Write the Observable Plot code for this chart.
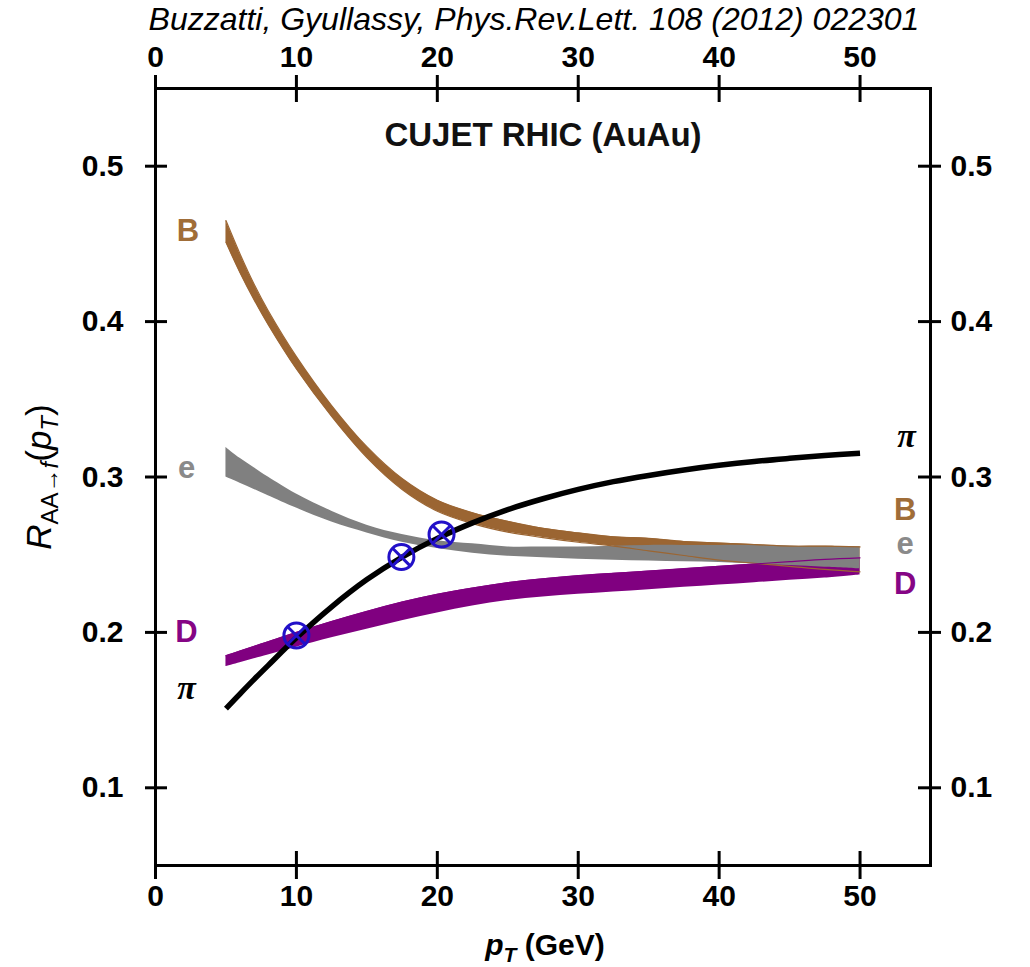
<!DOCTYPE html>
<html>
<head>
<meta charset="utf-8">
<script src="https://cdn.jsdelivr.net/npm/d3@7"></script>
<script src="https://cdn.jsdelivr.net/npm/@observablehq/plot@0.6"></script>
<style>
  body { margin: 0; background: #fff; }
  #wrap { position: relative; width: 1030px; height: 967px; overflow: hidden; }
  #cite { position: absolute; top: 0px; left: 0; width: 1030px; text-align: center;
          font-family: "Liberation Sans", Arial, sans-serif; font-style: italic;
          font-size: 32px; line-height: 38px; color: #000; padding-left: 38px; box-sizing: border-box; }
  #chart { position: absolute; top: 0; left: 0; }
</style>
</head>
<body>
<div id="wrap">
  <div id="chart"></div>
  <div id="cite">Buzzatti, Gyullassy, Phys.Rev.Lett. 108 (2012) 022301</div>
</div>
<script>
// ---- data ----
const ptGrid = [5, 6, 7, 8, 10, 12.5, 15, 17.5, 20, 22.5, 25, 27.5, 30, 32.5, 35, 37.5, 40, 42.5, 45, 47.5, 50];

const piR = [0.151, 0.1605, 0.1698, 0.1788, 0.1965, 0.2165, 0.234, 0.2485, 0.2605, 0.2705, 0.279, 0.286, 0.292, 0.297, 0.301, 0.3045, 0.3075, 0.310, 0.312, 0.3138, 0.3153];

const bLow  = [0.451, 0.4315, 0.414, 0.398, 0.3695, 0.339, 0.3125, 0.292, 0.278, 0.270, 0.2645, 0.261, 0.258, 0.2555, 0.2525, 0.2495, 0.2465, 0.2445, 0.2425, 0.2405, 0.239];
const bHigh = [0.465, 0.4435, 0.424, 0.407, 0.3775, 0.346, 0.3195, 0.299, 0.285, 0.277, 0.2715, 0.267, 0.264, 0.2615, 0.2605, 0.2585, 0.2575, 0.2565, 0.2555, 0.2555, 0.255];

const eLow  = [0.300, 0.296, 0.292, 0.288, 0.280, 0.271, 0.264, 0.258, 0.254, 0.251, 0.249, 0.248, 0.247, 0.2465, 0.246, 0.2455, 0.245, 0.244, 0.243, 0.242, 0.241];
const eHigh = [0.319, 0.312, 0.306, 0.300, 0.289, 0.278, 0.269, 0.263, 0.259, 0.257, 0.255, 0.255, 0.255, 0.2555, 0.256, 0.256, 0.256, 0.256, 0.2555, 0.255, 0.255];

const dLow  = [0.178, 0.1805, 0.183, 0.1855, 0.1905, 0.1965, 0.202, 0.2075, 0.2125, 0.217, 0.2205, 0.2228, 0.2245, 0.226, 0.2275, 0.229, 0.2305, 0.232, 0.2335, 0.235, 0.237];
const dHigh = [0.185, 0.188, 0.191, 0.194, 0.200, 0.207, 0.2135, 0.2195, 0.2245, 0.2285, 0.232, 0.2345, 0.2365, 0.238, 0.2395, 0.241, 0.2425, 0.244, 0.2455, 0.247, 0.248];

// crossing markers (pT, R_AA)
const markerPt = [10, 17.45, 20.3];
const markerR  = [0.198, 0.2485, 0.263];

// curve labels (pT, R_AA)
const labelText = ["B", "e", "D", "π", "π", "B", "e", "D"];
const labelPt   = [2.3, 2.2, 2.2, 2.2, 53.3, 53.2, 53.2, 53.2];
const labelR    = [0.458, 0.306, 0.200, 0.164, 0.326, 0.279, 0.257, 0.231];
const labelKind = ["B", "e", "D", "pi", "pi", "B", "e", "D"];

const xTicks = [0, 10, 20, 30, 40, 50];
const yTicks = [0.1, 0.2, 0.3, 0.4, 0.5];

// ---- build ----
const rows = ptGrid.map((pt, i) => ({
  pt, pi: piR[i], bLo: bLow[i], bHi: bHigh[i], eLo: eLow[i], eHi: eHigh[i], dLo: dLow[i], dHi: dHigh[i]
}));
const markers = markerPt.map((pt, i) => ({pt, r: markerR[i]}));
const labels = labelText.map((t, i) => ({t, pt: labelPt[i], r: labelR[i], k: labelKind[i]}));

const colB = "#9b6532", colE = "#808080", colD = "#800080", colBlue = "#2210c8";
const labelColor = {B: "#a06d38", e: "#8a8a8a", D: "#850585", pi: "#000"};
const curve = "catmull-rom";

const W = 1030, H = 967, ML = 155, MR = 100, MT = 88, MB = 102;
const FW = W - ML - MR, FH = H - MT - MB;

const svg = Plot.plot({
  width: W, height: H,
  marginLeft: ML, marginRight: MR, marginTop: MT, marginBottom: MB,
  x: {domain: [0, 55]},
  y: {domain: [0.05, 0.55]},
  style: {fontFamily: "'Liberation Sans', Arial, sans-serif", fontSize: "30px", fontWeight: "bold", color: "#000", background: "#fff"},
  marks: [
    Plot.areaY(rows, {x: "pt", y1: "bLo", y2: "bHi", fill: colB, curve}),
    Plot.areaY(rows, {x: "pt", y1: "dLo", y2: "dHi", fill: colD, curve}),
    Plot.areaY(rows, {x: "pt", y1: "eLo", y2: "eHi", fill: colE, curve}),
    Plot.line(rows, {x: "pt", y: "bLo", stroke: colB, strokeWidth: 1.2, curve}),
    Plot.line(rows, {x: "pt", y: "bHi", stroke: colB, strokeWidth: 1.2, curve}),
    Plot.line(rows, {x: "pt", y: "dHi", stroke: colD, strokeWidth: 1.2, curve}),
    Plot.line(rows, {x: "pt", y: "pi", stroke: "#000", strokeWidth: 5.5, strokeLinecap: "butt", curve}),
    Plot.dot(markers, {x: "pt", y: "r", r: 12.5, stroke: colBlue, strokeWidth: 3, fill: "none"}),
    Plot.dot(markers, {x: "pt", y: "r", symbol: "times", r: 7.6, stroke: colBlue, strokeWidth: 3}),
    Plot.frame({stroke: "#000", strokeWidth: 3}),
    Plot.axisX({anchor: "bottom", ticks: xTicks, tickFormat: d => d, tickSize: 14, tickPadding: 5, strokeWidth: 3, label: null}),
    Plot.axisX({anchor: "top", ticks: xTicks, tickFormat: d => d, tickSize: 14, tickPadding: 8, strokeWidth: 3, label: null}),
    Plot.axisY({anchor: "left", ticks: yTicks, tickFormat: d3.format(".1f"), tickSize: 10, tickPadding: 22, strokeWidth: 3, label: null}),
    Plot.axisY({anchor: "right", ticks: yTicks, tickFormat: d3.format(".1f"), tickSize: 10, tickPadding: 10, strokeWidth: 3, label: null}),
    // inward halves of the ticks
    Plot.tickX(xTicks, {x: d => d, insetTop: FH - 14, strokeWidth: 3}),
    Plot.tickX(xTicks, {x: d => d, insetBottom: FH - 14, strokeWidth: 3}),
    Plot.tickY(yTicks, {y: d => d, insetRight: FW - 12, strokeWidth: 3}),
    Plot.tickY(yTicks, {y: d => d, insetLeft: FW - 12, strokeWidth: 3}),
    Plot.text(labels.filter(d => d.k !== "pi"), {x: "pt", y: "r", text: "t", fill: d => labelColor[d.k], fontSize: 31, fontWeight: "bold"}),
    Plot.text(labels.filter(d => d.k === "pi"), {x: "pt", y: "r", text: "t", fill: "#000", fontSize: 34, fontWeight: "bold",
      fontStyle: "italic", fontFamily: "'Liberation Serif', 'DejaVu Serif', serif"}),
    Plot.text(["CUJET RHIC (AuAu)"], {text: d => d, frameAnchor: "top", dy: 34, fontSize: 33, fontWeight: "bold", fill: "#111"})
  ]
});

document.getElementById("chart").appendChild(svg);

const s = d3.select(svg);
// y-axis label R_{AA→f}(p_T)
const yl = s.append("text")
  .attr("transform", "translate(51,477) rotate(-90)")
  .attr("text-anchor", "middle")
  .attr("font-family", "'Liberation Sans', Arial, sans-serif")
  .attr("font-size", 35).attr("font-weight", "normal").attr("fill", "#000");
yl.append("tspan").attr("font-style", "italic").text("R");
yl.append("tspan").attr("font-size", 24).attr("dy", 7).text("AA→");
yl.append("tspan").attr("font-size", 24).attr("font-style", "italic").text("f");
yl.append("tspan").attr("dy", -7).text("(");
yl.append("tspan").attr("font-style", "italic").text("p");
yl.append("tspan").attr("font-size", 24).attr("font-style", "italic").attr("dy", 7).text("T");
yl.append("tspan").attr("dy", -7).text(")");

// x-axis label p_T (GeV)
const xl = s.append("text")
  .attr("x", 545).attr("y", 955)
  .attr("text-anchor", "middle")
  .attr("font-family", "'Liberation Sans', Arial, sans-serif")
  .attr("font-size", 30).attr("font-weight", "bold").attr("fill", "#000");
xl.append("tspan").attr("font-style", "italic").text("p");
xl.append("tspan").attr("font-style", "italic").attr("font-size", 21).attr("dy", 7).text("T");
xl.append("tspan").attr("dy", -7).text(" (GeV)");
</script>
</body>
</html>
